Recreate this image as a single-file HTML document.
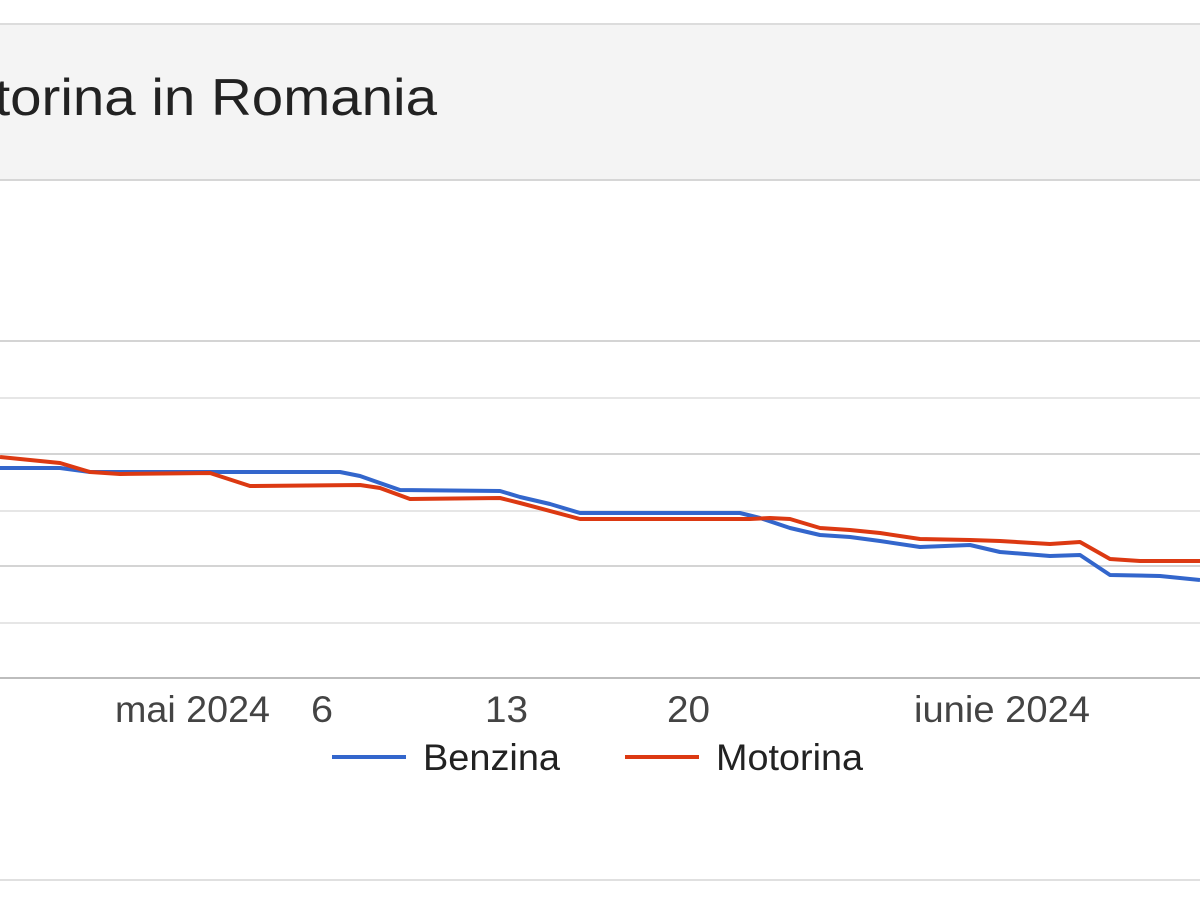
<!DOCTYPE html>
<html><head><meta charset="utf-8"><style>
html,body{margin:0;padding:0;background:#fff;width:1200px;height:900px;overflow:hidden;font-family:"Liberation Sans",Arial,sans-serif}
</style></head><body>
<svg width="1200" height="900" viewBox="0 0 1200 900" xmlns="http://www.w3.org/2000/svg">
<rect x="0" y="0" width="1200" height="900" fill="#fff"/>
<rect x="0" y="24" width="1200" height="156" fill="#f4f4f4"/>
<line x1="0" y1="24" x2="1200" y2="24" stroke="#dcdcdc" stroke-width="2"/>
<line x1="0" y1="180" x2="1200" y2="180" stroke="#d6d6d6" stroke-width="2"/>
<text x="-84" y="115" font-size="52" fill="#222" textLength="521" lengthAdjust="spacingAndGlyphs">Motorina in Romania</text>
<g stroke="#d4d4d4" stroke-width="2">
<line x1="0" y1="341" x2="1200" y2="341"/>
<line x1="0" y1="398" x2="1200" y2="398" stroke="#e6e6e6"/>
<line x1="0" y1="454" x2="1200" y2="454"/>
<line x1="0" y1="511" x2="1200" y2="511" stroke="#e6e6e6"/>
<line x1="0" y1="566" x2="1200" y2="566"/>
<line x1="0" y1="623" x2="1200" y2="623" stroke="#e6e6e6"/>
</g>
<line x1="0" y1="678" x2="1200" y2="678" stroke="#bdbdbd" stroke-width="2"/>
<line x1="0" y1="880" x2="1200" y2="880" stroke="#e0e0e0" stroke-width="2"/>
<polyline fill="none" stroke="#3366cc" stroke-width="4" stroke-linejoin="round" points="0,468 60,468 90,472 210,472 340,472 360,476 400,490 500,491 520,497 550,504 580,513 740,513 760,518 790,528 820,535 850,537 880,541 920,547 970,545 1000,552 1050,556 1080,555 1110,575 1160,576 1200,580"/>
<polyline fill="none" stroke="#dc3912" stroke-width="4" stroke-linejoin="round" points="0,457 60,463 90,472 120,474 210,473 250,486 360,485 380,488 410,499 500,498 520,503 580,519 600,519 750,519 770,518 790,519 820,528 850,530 880,533 920,539 970,540 1000,541 1050,544 1080,542 1110,559 1140,561 1200,561"/>
<g font-size="37" fill="#444">
<text x="115" y="722" textLength="155" lengthAdjust="spacingAndGlyphs">mai 2024</text>
<text x="311" y="722" textLength="22" lengthAdjust="spacingAndGlyphs">6</text>
<text x="485" y="722" textLength="43" lengthAdjust="spacingAndGlyphs">13</text>
<text x="667" y="722" textLength="43" lengthAdjust="spacingAndGlyphs">20</text>
<text x="914" y="722" textLength="176" lengthAdjust="spacingAndGlyphs">iunie 2024</text>
</g>
<line x1="332" y1="757" x2="406" y2="757" stroke="#3366cc" stroke-width="4"/>
<text x="423" y="770" font-size="37" fill="#222" textLength="137" lengthAdjust="spacingAndGlyphs">Benzina</text>
<line x1="625" y1="757" x2="699" y2="757" stroke="#dc3912" stroke-width="4"/>
<text x="716" y="770" font-size="37" fill="#222" textLength="147" lengthAdjust="spacingAndGlyphs">Motorina</text>
</svg>
</body></html>
